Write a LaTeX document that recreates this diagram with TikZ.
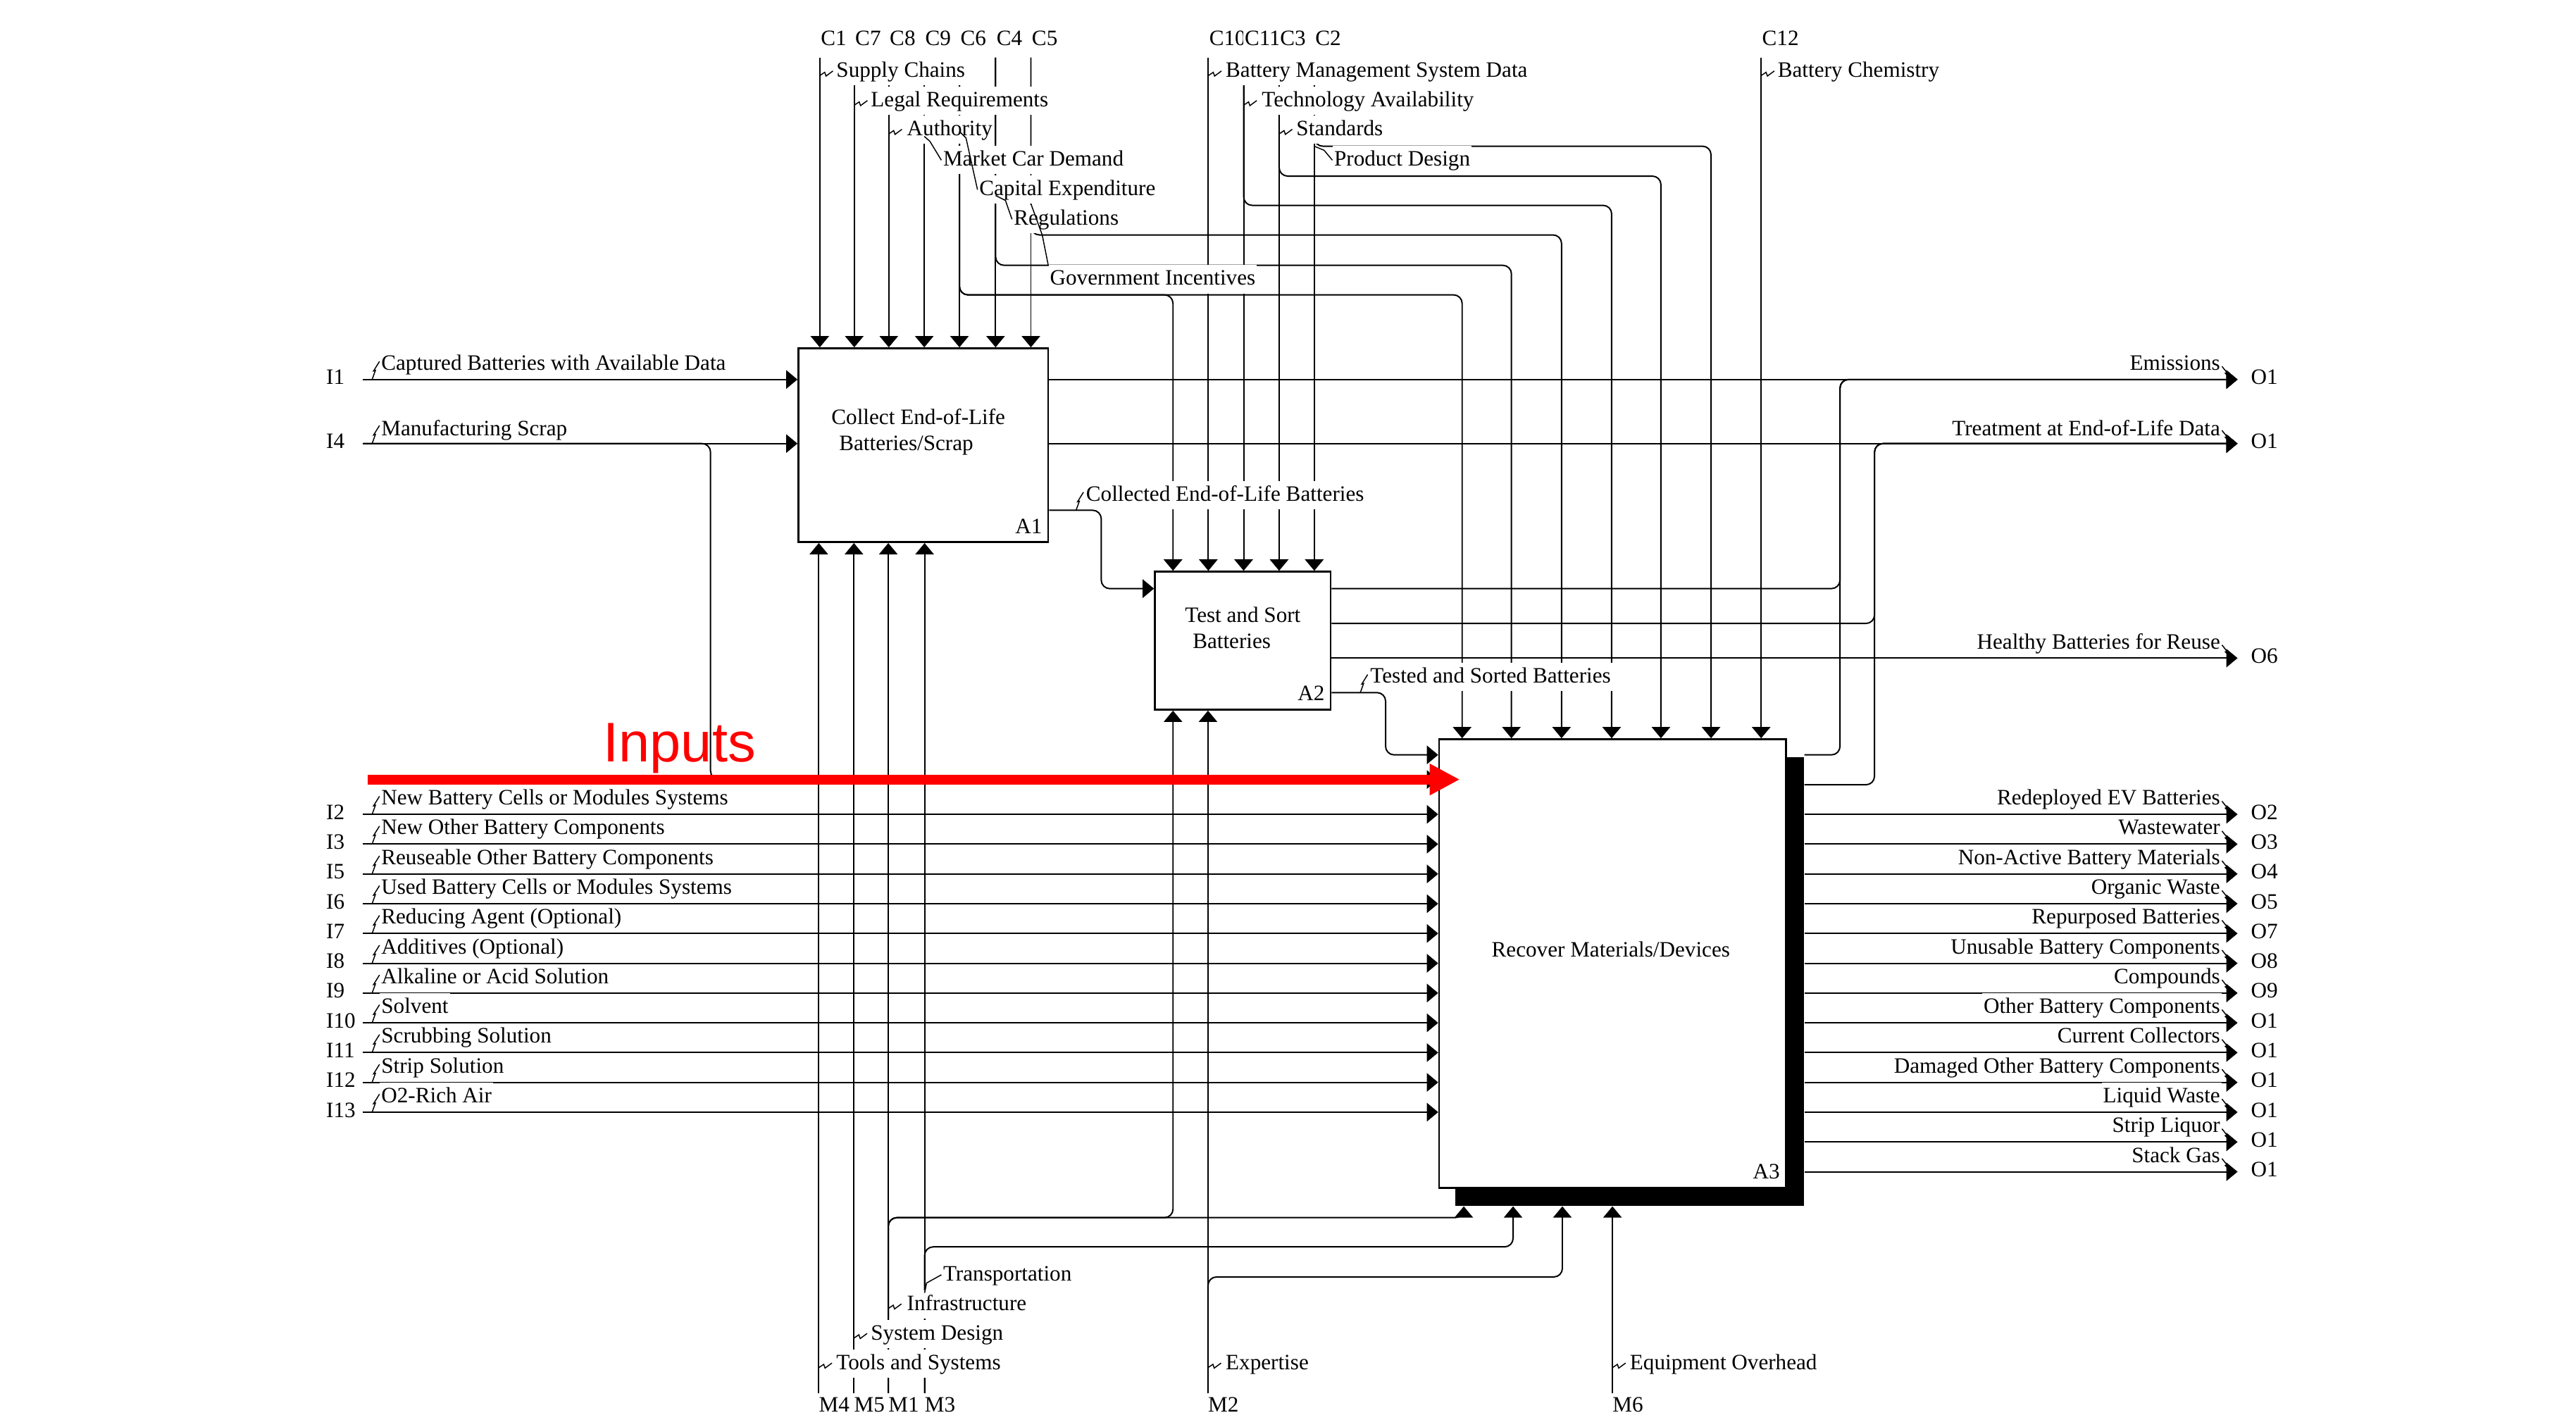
\documentclass[tikz,border=0pt]{standalone}
\usepackage{fontspec}
\setmainfont{Liberation Serif}
\newfontfamily\inpfont{Liberation Sans}
\usetikzlibrary{arrows.meta}
\definecolor{inred}{HTML}{FF0000}
\tikzset{
  flow/.style={line width=0.6pt,rounded corners=1.3mm,-{Triangle[length=4.9pt,width=8pt]}},
  actbox/.style={draw,line width=0.8pt,fill=white,inner sep=0pt},
  boxtxt/.style={font=\fontsize{9.5}{11.3}\selectfont,align=left,inner sep=0pt},
  lbl/.style={font=\fontsize{9.5}{11}\selectfont,inner xsep=0.6pt,inner ysep=1.6pt,text height=7pt,text depth=2pt},
  lblw/.style={lbl,fill=white},
  leader/.style={line width=0.45pt},
  sqv/.pic={\draw[leader] (0,0) -- (3,-2) -- (3.8,0.3) -- (8,-2.8);},
  sqi/.pic={\draw[leader] (0,0) -- (2,-5.5) -- (0.9,-5.2) -- (4.5,-11);},
  sqo/.pic={\draw[leader] (0,0) -- (3,3.8) -- (2,4.2) -- (5.8,8);},
}

\begin{document}
\begin{tikzpicture}[x=0.025cm,y=-0.025cm]
\useasboundingbox (0,0) rectangle (1568,864);

% activity boxes
\node[fill=black,inner sep=0pt,minimum width=5.3cm,minimum height=6.825cm] (A3s) at (992,597.5) {};
\node[actbox,minimum width=3.8cm,minimum height=2.95cm] (A1) at (562,271) {};
\node[actbox,minimum width=2.675cm,minimum height=2.1cm] (A2) at (756.5,390) {};
\node[actbox,minimum width=5.275cm,minimum height=6.825cm] (A3) at (981.5,586.5) {};
\node[boxtxt] at (559,263) {Collect End-of-Life\\\hspace*{0.35em}Batteries/Scrap};
\node[boxtxt] at (756.5,382) {Test and Sort\\\hspace*{0.35em}Batteries};
\node[boxtxt] at (980.5,578) {Recover Materials/Devices};
\foreach \b in {A1,A2,A3}
  \node[lbl,inner sep=0pt,anchor=base east] at ([shift={(-4,-6)}]\b.south east) {\b};

% controls
\foreach \n/\x/\t in {c1/499/C1,c7/520/C7,c8/541/C8,c9/562.6/C9,c6/584/C6,c4/606/C4,c5/627.5/C5,c10/735.5/C10,c11/757/C11,c3/778.6/C3,c2/800/C2,c12/1072/C12}{
  \coordinate (\n) at (\x,35);
  \node[lblw,anchor=west] at (\x-0.5,24) {\t};
}
\foreach \n in {c1,c7,c8,c9,c6,c4,c5} \draw[flow] (\n) -- (\n |- A1.north);
\foreach \n in {c10,c11,c3,c2} \draw[flow] (\n) -- (\n |- A2.north);
\draw[flow] (c12) -- (c12 |- A3.north);
\coordinate (k6a) at (714,179.5);
\coordinate (k6b) at (890,179.5);
\coordinate (k4) at (920,161.5);
\coordinate (k5) at (950.5,143);
\coordinate (k11) at (981,125);
\coordinate (k3) at (1011,107.2);
\coordinate (k2) at (1041.5,89);
\draw[flow] (c6) |- (k6a) -- (k6a |- A2.north);
\foreach \n/\k in {c6/k6b,c4/k4,c5/k5,c11/k11,c3/k3,c2/k2}
  \draw[flow] (\n) |- (\k) -- (\k |- A3.north);

% mechanisms
\foreach \n/\x/\t in {m4/498.4/M4,m5/519.8/M5,m1/540.7/M1,m3/562.8/M3,m2/735.3/M2,m6/981.5/M6}{
  \coordinate (\n) at (\x,848);
  \node[lbl,anchor=west] at (\x-1,856) {\t};
}
\foreach \n in {m4,m5,m1,m3} \draw[flow] (\n) -- (\n |- A1.south);
\draw[flow] (m2) -- (m2 |- A2.south);
\draw[flow] (m6) -- (m6 |- A3s.south);
\coordinate (k1a) at (714,741.2);
\coordinate (k1b) at (891,741.2);
\coordinate (k3m) at (921,759);
\coordinate (k2m) at (951,777.3);
\draw[flow] (m1) |- (k1a) -- (k1a |- A2.south);
\draw[flow] (m1) |- (k1b) [sharp corners] -- (k1b |- A3s.south);
\draw[flow] (m3) |- (k3m) -- (k3m |- A3s.south);
\draw[flow] (m2) |- (k2m) -- (k2m |- A3s.south);

% A1 and A2 outputs
\coordinate (o1a) at (1362,231);
\coordinate (o1b) at (1362,270);
\coordinate (o6) at (1362,400.6);
\coordinate (ve) at (1120,231);
\coordinate (vt) at (1141,270);
\draw[flow] (A1.east |- o1a) -- (o1a);
\draw[flow] (A1.east |- o1b) -- (o1b);
\coordinate (k12) at (670.3,358.3);
\draw[flow] (A1.east |- 0,310.6) -| (k12) -- (k12 -| A2.west);
\draw[flow] (A2.east |- 0,358.3) -| (ve) -- (o1a);
\draw[flow] (A2.east |- 0,379.5) -| (vt) -- (o1b);
\draw[flow] (A2.east |- o6) -- (o6);
\coordinate (k23) at (843.4,459.5);
\draw[flow] (A2.east |- 0,421.6) -| (k23) -- (k23 -| A3.west);
\draw[flow] (A3s.east |- 0,459.5) -| (ve) -- (o1a);
\draw[flow] (A3s.east |- 0,477.7) -| (vt) -- (o1b);

% inputs
\coordinate (i1) at (221,231);
\coordinate (i4) at (221,270);
\coordinate (k4i) at (432.5,474.5);
\draw[flow] (i1) -- (i1 -| A1.west);
\draw[flow] (i4) -- (i4 -| A1.west);
\draw[flow] (i4) -| (k4i) -- (k4i -| A3.west);
\node[lbl,anchor=west] at (231,222) {Captured Batteries with Available Data};
\node[lbl,anchor=west] at (231,261.5) {Manufacturing Scrap};
\node[lbl,anchor=west] at (197.5,230.5) {I1};
\node[lbl,anchor=west] at (197.5,269.5) {I4};
\pic at (226.5,231) {sqi};
\pic at (226.5,270) {sqi};
\foreach \k/\id/\t/\s in {0/I2/New Battery Cells or Modules Systems/lbl,
    1/I3/New Other Battery Components/lblw,
    2/I5/Reuseable Other Battery Components/lblw,
    3/I6/Used Battery Cells or Modules Systems/lbl,
    4/I7/Reducing Agent (Optional)/lbl,
    5/I8/Additives (Optional)/lbl,
    6/I9/Alkaline or Acid Solution/lbl,
    7/I10/Solvent/lblw,
    8/I11/Scrubbing Solution/lblw,
    9/I12/Strip Solution/lblw,
    10/I13/O2-Rich Air/lblw}{
  \pgfmathsetmacro\yy{495.7+18.13*\k}
  \coordinate (in\k) at (221,\yy);
  \draw[flow] (in\k) -- (in\k -| A3.west);
  \node[\s,anchor=west] at (231,\yy-9.3) {\t};
  \node[lbl,anchor=west] at (197.5,\yy-0.5) {\id};
  \pic at (226.5,\yy) {sqi};
}

% outputs
\node[lbl,anchor=east] at (1352.5,222) {Emissions};
\node[lbl,anchor=east] at (1352.5,261.5) {Treatment at End-of-Life Data};
\node[lbl,anchor=east] at (1352.5,391.5) {Healthy Batteries for Reuse};
\node[lbl,anchor=west] at (1369,230.5) {O1};
\node[lbl,anchor=west] at (1369,269.5) {O1};
\node[lbl,anchor=west] at (1369,400) {O6};
\pic at (1352.5,223) {sqo};
\pic at (1352.5,262) {sqo};
\pic at (1352.5,392.6) {sqo};
\foreach \k/\id/\t/\s in {0/O2/Redeployed EV Batteries/lbl,
    1/O3/Wastewater/lblw,
    2/O4/Non-Active Battery Materials/lblw,
    3/O5/Organic Waste/lbl,
    4/O7/Repurposed Batteries/lbl,
    5/O8/Unusable Battery Components/lbl,
    6/O9/Compounds/lbl,
    7/O1/Other Battery Components/lblw,
    8/O1/Current Collectors/lblw,
    9/O1/Damaged Other Battery Components/lblw,
    10/O1/Liquid Waste/lblw,
    11/O1/Strip Liquor/lblw,
    12/O1/Stack Gas/lblw}{
  \pgfmathsetmacro\yy{495.7+18.13*\k}
  \coordinate (out\k) at (1362,\yy);
  \draw[flow] (A3s.east |- out\k) -- (out\k);
  \node[\s,anchor=east] at (1352.5,\yy-9.3) {\t};
  \node[lbl,anchor=west] at (1369,\yy-0.5) {\id};
  \pic at (1352.5,\yy-8) {sqo};
}

% arrow labels
\foreach \n/\x/\y/\t in {c1/508/43.5/Supply Chains,c7/529/61.5/Legal Requirements,c8/551/79/Authority,
    c10/745/43.5/Battery Management System Data,c11/767/61.5/Technology Availability,c3/788/79/Standards,
    c12/1081/43.5/Battery Chemistry}{
  \node[lblw,anchor=west] at (\x,\y) {\t};
  \pic at (\n |- 0,\y+2.5) {sqv};
}
\node[lblw,anchor=west] (mcd) at (573,97.5) {Market Car Demand};
\node[lblw,anchor=west] (cap) at (595,115.5) {Capital Expenditure};
\node[lblw,anchor=west] (reg) at (616,133.5) {Regulations};
\node[lblw,anchor=west] (gov) at (638,170) {Government Incentives};
\node[lblw,anchor=west] (pd) at (811,97.5) {Product Design};
\draw[leader] (c9 |- 0,83) -- (566,86) -- (mcd.west);
\draw[leader] (c6 |- 0,80) -- (588,84) -- (cap.west);
\draw[leader] (c4 |- 0,119) -- (612,122) -- (reg.west);
\draw[leader] (c5 |- 0,124) -- (634.4,143) -- (gov.north west);
\draw[leader] (c2 |- k2) -- (806,91.5) -- (pd.west);

\node[lblw,anchor=west] (col) at (660,301.5) {Collected End-of-Life Batteries};
\node[lblw,anchor=west] (tst) at (833,412) {Tested and Sorted Batteries};
\pic at (655,310.6) {sqi};
\pic at (828,421.6) {sqi};

\foreach \n/\x/\y/\t in {m4/508/830/Tools and Systems,m5/529/812/System Design,m1/551/794/Infrastructure,
    m2/745/830/Expertise,m6/991/830/Equipment Overhead}{
  \node[lblw,anchor=west] at (\x,\y) {\t};
  \pic at (\n |- 0,\y+2.5) {sqv};
}
\node[lblw,anchor=west] (trn) at (573,776) {Transportation};
\draw[leader] (m3 |- 0,787) -- (564,781) -- (trn.west);

% highlight
\coordinate (rs) at (224,474.5);
\coordinate (rt) at (888.6,474.5);
\draw[inred,line width=4.3pt,-{Triangle[length=0.46cm,width=0.45cm]}] (rs) -- (rt);
\node[text=inred,font=\inpfont\fontsize{24.2}{28}\selectfont,inner sep=0pt,anchor=base west] (inp) at (367,463.8) {Inputs};
\end{tikzpicture}
\end{document}
